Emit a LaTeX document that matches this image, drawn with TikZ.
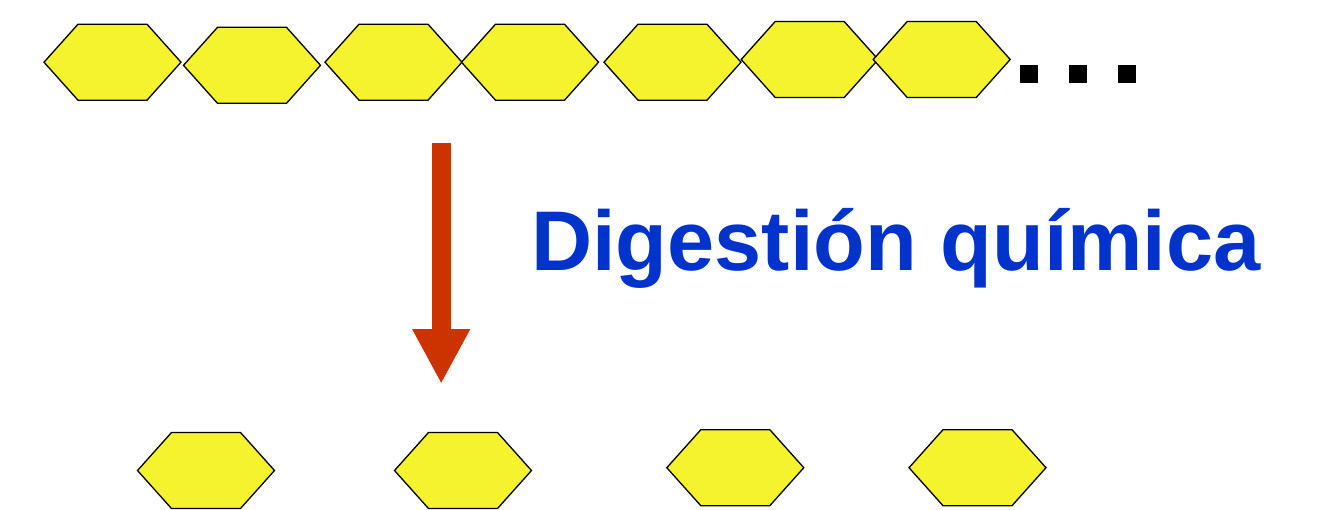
\documentclass[tikz,border=0pt]{standalone}
\usepackage{fontspec}
\setmainfont{Liberation Sans}
\usepackage{tikz}
\usetikzlibrary{arrows.meta}
\definecolor{hexyellow}{HTML}{F5F22E}
\definecolor{cutred}{HTML}{CC3300}
\definecolor{labelblue}{HTML}{0033CC}

\begin{document}
\begin{tikzpicture}[x=1pt,y=-1pt,
 hexa/.style={draw=black,fill=hexyellow,line width=1.3pt,line join=miter},
 unit/.pic={\path[hexa] (-68.5,0)--(-34.5,-38)--(34.5,-38)--(68.5,0)--(34.5,38)--(-34.5,38)--cycle;},
 dot/.style={fill=black,inner sep=0pt,minimum size=17.6pt},
 cut/.style={-{Triangle[length=55pt,width=54pt]},cutred,line width=19pt}]
\useasboundingbox (0,0) rectangle (1317,509);
% chain
\pic (c1) at (112.5,62.2) {unit};
\pic (c2) at (252,65.3) {unit};
\pic (c3) at (393.5,62.2) {unit};
\pic (c4) at (530,62.2) {unit};
\pic (c5) at (672.5,62.2) {unit};
\pic (c6) at (809.7,59.5) {unit};
\pic (c7) at (941.7,59.5) {unit};
\node[dot] (d1) at (1028.8,73.8) {};
\node[dot] (d2) at (1077.8,73.8) {};
\node[dot] (d3) at (1126.8,73.8) {};
% digestion
\coordinate (from) at (441.2,142.7);
\coordinate (to) at (441.2,384);
\draw[cut] (from)--(to);
\node[anchor=base west,inner sep=0pt,text=labelblue,font=\fontsize{84.7}{90}\selectfont\bfseries] (label) at (531,270.7) {Digestión química};
% monomers
\pic (m1) at (206,470.5) {unit};
\pic (m2) at (463,470.5) {unit};
\pic (m3) at (735.3,467.7) {unit};
\pic (m4) at (977.5,467.7) {unit};
\end{tikzpicture}
\end{document}
